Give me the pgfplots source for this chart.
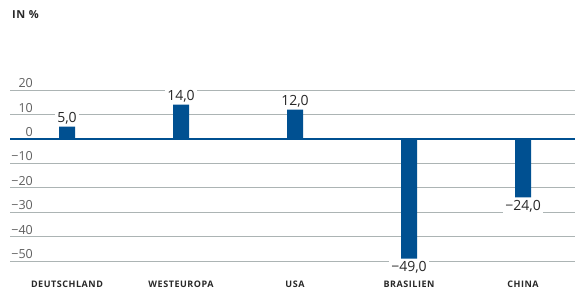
\documentclass[border=0pt]{standalone}
\usepackage{fontspec}
\setmainfont{Open Sans}
\newfontfamily\catfont[LetterSpace=6]{Open Sans}
\usepackage{pgfplots}
\pgfplotsset{compat=1.18}
\definecolor{barblue}{RGB}{0,80,145}
\definecolor{gridgray}{RGB}{172,180,180}
\definecolor{ticktxt}{RGB}{95,95,95}
\definecolor{valtxt}{RGB}{40,40,40}
\begin{document}
\begin{tikzpicture}[x=1pt,y=1pt]
\path[use as bounding box] (0,0) rectangle (575,292);
\node[anchor=base west, inner sep=0pt, font=\catfont\bfseries\fontsize{11}{13}\selectfont, text=valtxt] at (12,273) {IN \%};
\begin{axis}[
  at={(10pt,31pt)}, anchor=south west,
  scale only axis, width=565pt, height=171pt,
  ybar, bar width=16pt,
  xmin=-0.5, xmax=4.456, ymin=-50, ymax=20,
  axis line style={draw=none},
  major tick length=0pt,
  ytick={-50,-40,-30,-20,-10,0,10,20},
  yticklabels={−50,−40,−30,−20,−10,0,10,20},
  ymajorgrids, grid style={color=gridgray, line width=0.9pt},
  yticklabel style={anchor=south east, inner sep=0pt, xshift=23pt, yshift=2pt, font=\fontsize{12.5}{14}\selectfont, text=ticktxt},
  xtick={0,1,2,3,4},
  xticklabels={DEUTSCHLAND,WESTEUROPA,USA,BRASILIEN,CHINA},
  xticklabel style={anchor=north, inner sep=0pt, yshift=-20pt, font=\catfont\bfseries\fontsize{9}{10}\selectfont, text=valtxt},
  extra y ticks={0}, extra y tick labels={},
  extra y tick style={grid style={color=barblue, line width=2.2pt}},
  point meta=explicit symbolic,
  visualization depends on={value \thisrow{anc} \as \myanchor},
  nodes near coords={\pgfplotspointmeta},
  nodes near coords style={fill=white, inner xsep=2.5pt, inner ysep=2.5pt, anchor=\myanchor, font=\fontsize{14}{16}\selectfont, text=valtxt},
  clip=false,
]
\addplot[fill=barblue, draw=none] table[x=x, y=y, meta=lab] {
x y lab anc
0 5 5,0 south
1 14 14,0 south
2 12 12,0 south
3 -49 −49,0 north
4 -24 −24,0 north
};
\end{axis}
\end{tikzpicture}
\end{document}
